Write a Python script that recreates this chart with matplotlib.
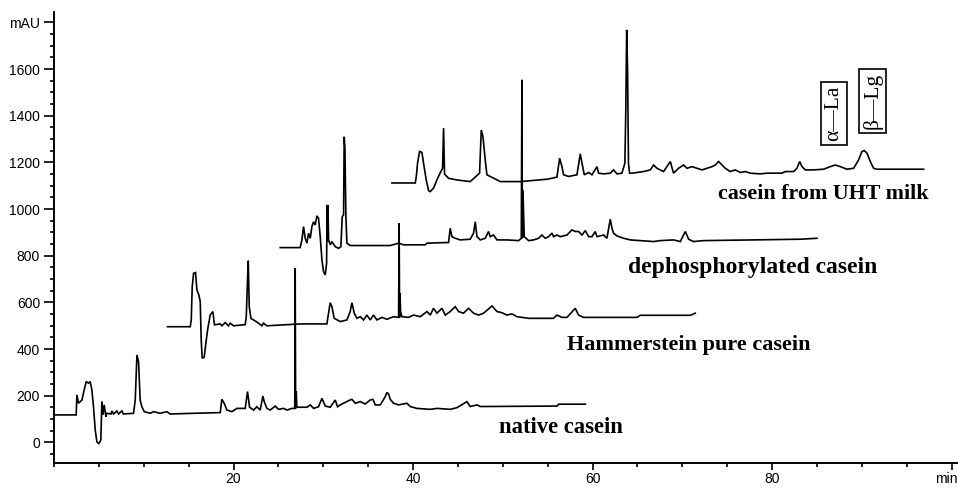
import matplotlib
matplotlib.use("Agg")
import matplotlib.pyplot as plt
from matplotlib.ticker import MultipleLocator, FixedLocator

# ---------------- data (time in min, absorbance in mAU) ----------------
native_t = [0, 2.47, 2.55, 2.73, 3.11, 3.36, 3.59, 3.85, 4.03, 4.22, 4.40, 4.59, 4.78, 5.0, 5.22,
            5.33, 5.45, 5.59, 5.78, 5.89, 6.34, 6.45, 6.63, 7.0, 7.19, 7.56, 7.74, 8.86, 9.05,
            9.24, 9.42, 9.60, 9.79, 10.05, 10.72, 11.09, 11.83, 12.58, 12.95, 15.55, 18.52, 18.7,
            18.96, 19.26, 19.82, 20.37, 21.30, 21.56, 21.79, 22.23, 22.60, 22.97, 23.27, 23.42,
            23.72, 24.09, 24.65, 25.01, 25.57, 25.95, 26.51, 26.82, 26.87, 26.92, 26.99, 27.05, 27.13,
            28.18, 28.55, 28.92, 29.47, 29.85, 30.22, 30.78, 31.33, 31.59, 31.89, 32.82,
            33.19, 33.56, 34.12, 34.67, 35.23, 35.53, 35.79, 36.35, 36.90, 37.09, 37.27, 37.46,
            37.83, 38.39, 39.32, 39.69, 40.43, 41.92, 42.66, 44.14, 44.89, 46.0, 46.37, 47.12,
            47.49, 56.03, 56.21, 59.2]
native_v = [118, 118, 204, 168, 182, 225, 261, 254, 261, 225, 153, 54, 3, -6, 11,
            175, 118, 161, 111, 125, 122, 135, 122, 135, 122, 135, 122, 125, 182,
            375, 346, 182, 153, 132, 125, 132, 125, 132, 122, 125, 128, 185,
            168, 139, 132, 146, 146, 218, 151, 139, 153, 139, 199, 175,
            146, 139, 156, 142, 146, 139, 146, 146, 747, 146, 218, 151, 151,
            151, 161, 146, 153, 189, 156, 151, 182, 153, 161, 179,
            185, 168, 175, 165, 182, 185, 161, 161, 196, 214, 208, 185,
            168, 161, 168, 154, 146, 142, 146, 142, 149, 175, 154, 161,
            154, 156, 164, 164]

hammer_t = [12.65, 15.18, 15.29, 15.40, 15.55, 15.77, 15.92, 16.14, 16.29, 16.40, 16.51, 16.73,
            16.92, 17.11, 17.40, 17.70, 17.88, 18.52, 18.71, 19.07, 19.44, 19.63, 20.0, 21.30,
            21.42, 21.56, 21.64, 21.75, 21.94, 22.23, 22.79, 23.16, 23.34, 23.72, 27.43, 30.40,
            30.77, 30.96, 31.22, 31.89, 32.63, 33.0, 33.19, 33.45, 33.75, 34.12, 34.48, 34.86,
            35.23, 35.60, 35.98, 36.53, 37.09, 37.83, 38.39, 38.45, 38.50, 38.55, 38.61, 38.76,
            39.50, 40.06, 40.80, 41.55, 41.92, 42.28, 42.66, 43.22, 43.59, 44.14, 44.70, 45.07,
            45.63, 46.18, 46.74, 47.30, 47.86, 48.79, 49.35, 49.90, 50.46, 51.02, 51.58, 52.87,
            55.65, 56.03, 56.59, 57.15, 58.07, 58.44, 59.0, 64.95, 65.31, 70.89, 71.44]
hammer_v = [496, 496, 525, 668, 725, 728, 654, 632, 604, 439, 361, 365,
            425, 482, 546, 561, 504, 508, 500, 514, 500, 511, 500, 505,
            539, 697, 779, 582, 532, 525, 511, 500, 511, 500, 508, 508,
            599, 582, 532, 518, 525, 561, 599, 554, 532, 539, 525, 546,
            525, 546, 525, 536, 528, 539, 536, 940, 536, 640, 560, 539,
            536, 546, 539, 561, 546, 575, 554, 575, 546, 561, 582, 561,
            554, 575, 554, 546, 554, 585, 561, 556, 546, 551, 539, 532,
            532, 546, 536, 536, 575, 546, 536, 536, 545, 545, 554]

dephos_t = [25.2, 27.42, 27.62, 27.80, 27.99, 28.18, 28.36, 28.55, 28.73, 28.92, 29.10, 29.29,
            29.47, 29.66, 29.85, 30.03, 30.22, 30.37, 30.42, 30.47, 30.52, 30.59, 30.78, 30.96,
            31.33, 31.70, 31.96, 32.11, 32.26, 32.33, 32.41, 32.52, 32.63, 33.0, 37.46, 38.39,
            38.94, 41.36, 41.55, 43.96, 44.14, 44.33, 44.70, 45.26, 46.37, 46.74, 46.93, 47.12,
            47.49, 48.04, 48.41, 48.60, 48.97, 49.35, 50.46, 51.76, 52.06, 52.13, 52.18, 52.24,
            52.39, 52.87, 53.43, 53.99, 54.36, 54.73, 55.10, 55.48, 55.65, 56.03, 56.40, 57.15,
            57.70, 58.07, 58.44, 58.82, 59.19, 59.56, 59.93, 60.30, 60.49, 61.23, 61.60, 61.97,
            62.16, 62.34, 62.72, 63.46, 64.20, 65.31, 66.80, 67.54, 69.02, 69.77, 70.33, 70.70,
            71.25, 72.37, 83.14, 85.0]
dephos_v = [835, 835, 868, 925, 875, 854, 897, 875, 925, 946, 932, 971,
            961, 882, 782, 732, 718, 768, 1018, 860, 1018, 868, 847, 861,
            839, 832, 839, 968, 975, 1310, 1262, 968, 854, 844, 844, 854,
            847, 847, 854, 857, 918, 882, 875, 868, 871, 897, 946, 882,
            868, 875, 904, 882, 889, 868, 868, 865, 875, 1554, 875, 1082,
            882, 865, 868, 875, 889, 875, 882, 897, 882, 889, 882, 889,
            911, 904, 904, 889, 908, 882, 882, 904, 882, 889, 875, 957,
            918, 897, 885, 875, 868, 865, 861, 865, 868, 861, 904, 871,
            861, 865, 871, 875]

uht_t = [37.65, 40.25, 40.36, 40.50, 40.73, 40.99, 41.17, 41.47, 41.73, 41.92, 42.28, 42.66,
         43.03, 43.29, 43.40, 43.51, 43.96, 44.89, 46.37, 47.41, 47.60, 47.79, 48.04, 48.23,
         49.16, 49.72, 51.94, 54.92, 56.03, 56.33, 56.59, 56.77, 57.33, 58.26, 58.63, 58.82,
         59.08, 59.56, 59.93, 60.49, 60.67, 61.23, 61.97, 62.34, 62.72, 63.27, 63.60, 63.70,
         63.80, 63.90, 64.00, 64.12, 64.39, 64.95, 65.68, 66.43, 66.80, 67.17, 67.91, 68.66,
         69.02, 69.58, 70.14, 70.52, 71.07, 71.63, 72.19, 72.75, 73.30, 73.67, 74.04, 74.42,
         74.78, 75.34, 75.90, 76.46, 77.01, 77.57, 78.68, 79.43, 81.10, 81.47, 82.40, 82.77,
         83.07, 83.33, 83.70, 84.62, 85.74, 86.48, 87.04, 87.60, 88.34, 89.08, 89.64, 90.01,
         90.27, 90.57, 90.94, 91.31, 91.69, 96.88]
uht_v = [1112, 1112, 1139, 1197, 1247, 1243, 1197, 1125, 1079, 1075, 1090, 1125,
         1156, 1175, 1347, 1150, 1132, 1125, 1118, 1154, 1339, 1310, 1211, 1147,
         1129, 1118, 1118, 1128, 1137, 1218, 1182, 1147, 1140, 1147, 1237, 1197,
         1147, 1157, 1147, 1182, 1154, 1151, 1154, 1168, 1151, 1154, 1197, 1418,
         1768, 1597, 1197, 1154, 1154, 1157, 1161, 1168, 1189, 1175, 1161, 1204,
         1154, 1175, 1189, 1175, 1182, 1175, 1168, 1175, 1182, 1189, 1204, 1189,
         1175, 1161, 1168, 1157, 1161, 1154, 1151, 1154, 1154, 1161, 1161, 1175,
         1204, 1182, 1168, 1168, 1171, 1182, 1189, 1182, 1171, 1175, 1211, 1247,
         1251, 1240, 1204, 1175, 1171, 1171]

trace_labels = ["native casein", "Hammerstein pure casein",
                "dephosphorylated casein", "casein from UHT milk"]
peak_labels = ["α—La", "β—Lg"]
x_tick_labels = ["20", "40", "60", "80", ""]
x_unit_label = "min"
y_tick_labels = ["0", "200", "400", "600", "800", "1000", "1200", "1400", "1600", "mAU"]

# ---------------- figure ----------------
fig = plt.figure(figsize=(9.58, 4.88), dpi=100)
ax = fig.add_axes([54 / 958, (488 - 463) / 488, 903 / 958, (463 - 11.7) / 488])

for t, v in [(native_t, native_v), (hammer_t, hammer_v), (dephos_t, dephos_v), (uht_t, uht_v)]:
    ax.plot(t, v, color="black", lw=1.2, solid_joinstyle="miter")

ax.set_xlim(0, 100.6)
ax.set_ylim(-88, 1846)

for s in ["top", "right"]:
    ax.spines[s].set_visible(False)
for s in ["left", "bottom"]:
    ax.spines[s].set_linewidth(1.4)

ax.xaxis.set_major_locator(FixedLocator([20, 40, 60, 80, 100]))
ax.xaxis.set_minor_locator(MultipleLocator(5))
ax.set_xticklabels(x_tick_labels)
ax.yaxis.set_major_locator(FixedLocator(list(range(0, 1801, 200))))
ax.yaxis.set_minor_locator(MultipleLocator(50))
ax.set_yticklabels(y_tick_labels)

tick_fs = 10
ax.tick_params(axis="both", which="both", direction="out", width=1.2, color="black",
               labelsize=tick_fs)
ax.tick_params(axis="y", which="major", length=7, pad=3)
ax.tick_params(axis="y", which="minor", length=3)
ax.tick_params(axis="x", which="major", length=5, pad=1.5)
ax.tick_params(axis="x", which="minor", length=3)
sans = ["Liberation Sans", "DejaVu Sans"]
for lab in ax.get_xticklabels() + ax.get_yticklabels():
    lab.set_family(sans)

ax.annotate(x_unit_label, xy=(100, 0), xycoords=("data", "axes fraction"),
            xytext=(-4, -6.5), textcoords="offset points", ha="center", va="top",
            fontsize=tick_fs, family=sans)

serif = ["Liberation Serif", "DejaVu Serif"]
label_pos = [(49.6, 66), (57.2, 418), (64.0, 748), (74.0, 1065)]
label_fs = [16.3, 16.0, 17.0, 15.8]
for (tx, ty), txt, fs in zip(label_pos, trace_labels, label_fs):
    ax.text(tx, ty, txt, family=serif, fontweight="bold", fontsize=fs,
            ha="left", va="center")

peak_pos = [(86.9, 1410), (91.2, 1465)]
for (tx, ty), txt in zip(peak_pos, peak_labels):
    ax.text(tx, ty, txt, family=serif, fontsize=15.5, rotation=90,
            ha="center", va="center",
            bbox=dict(boxstyle="square,pad=0.18", fc="white", ec="black", lw=1.2))

fig.savefig("out.png", dpi=100)
